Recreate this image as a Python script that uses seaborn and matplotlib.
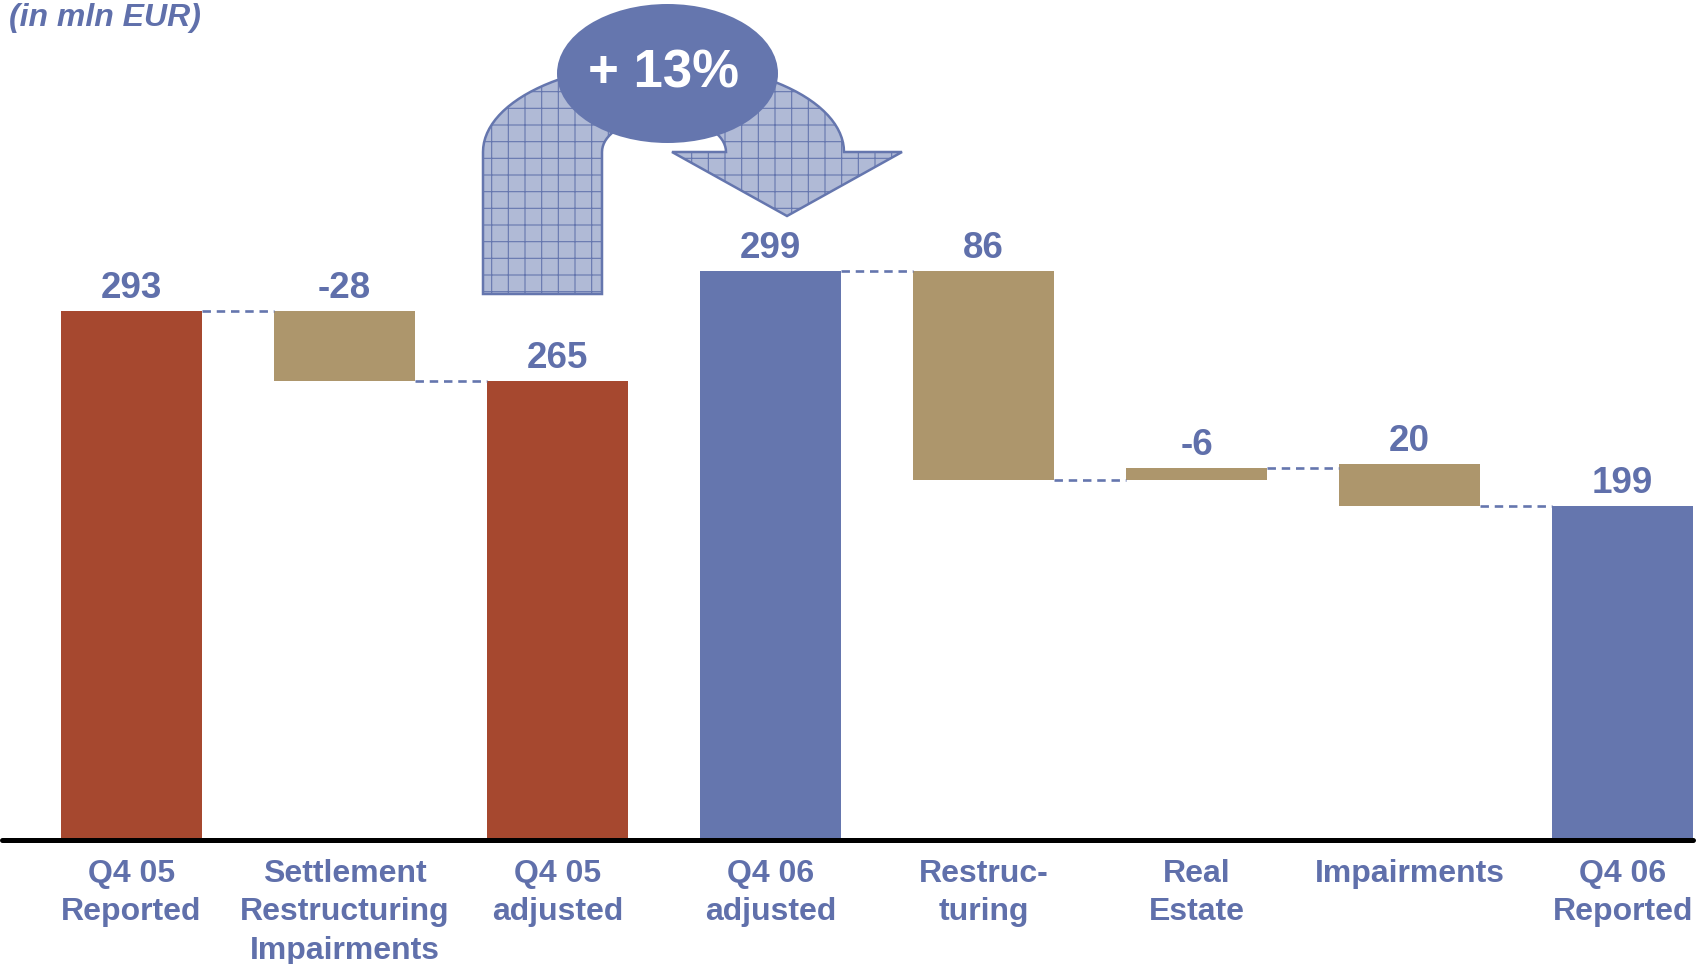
import numpy as np
import pandas as pd
import matplotlib
matplotlib.use("Agg")
import matplotlib.pyplot as plt
import seaborn as sns
from matplotlib.path import Path
from matplotlib.patches import PathPatch, Ellipse

# ---------------- data ----------------
categories = ["Q4 05\nReported", "Settlement\nRestructuring\nImpairments", "Q4 05\nadjusted",
              "Q4 06\nadjusted", "Restruc-\nturing", "Real\nEstate", "Impairments", "Q4 06\nReported"]
values = [293, -28, 265, 299, 86, -6, 20, 199]
# bar extents as drawn in the picture (chart units)
bar_high = [278, 278, 241, 299, 299, 195.5, 197.5, 175.5]
bar_low = [0, 241, 0, 0, 189, 189, 175.5, 0]
# dashed connector level between bar i and bar i+1 (None = no connector)
connector_levels = [278, 241, None, 299, 189, 195.5, 175.5]
bar_kind = ["q405", "adj", "q405", "q406", "adj", "adj", "adj", "q406"]
title = "(in mln EUR)"
growth_label = "+ 13%"

# ---------------- style ----------------
RED = "#A6482F"
TAN = "#AD966C"
BLUE = "#6576AE"
TXT = "#6070AB"
HATCH_FILL = "#B0BAD6"
kind_colors = {"q405": RED, "adj": TAN, "q406": BLUE}

sns.set_theme(style="white")
plt.rcParams["font.family"] = ["Liberation Sans", "DejaVu Sans"]
plt.rcParams["hatch.linewidth"] = 0.8

W, H = 1705, 964
fig = plt.figure(figsize=(W / 100, H / 100), dpi=100)
fig.patch.set_facecolor("white")

base_px = 839.5
ax = fig.add_axes([2 / W, (H - base_px) / H, 1691 / W, base_px / H])
ax.set_facecolor("none")

df = pd.DataFrame({
    "category": categories,
    "height": np.array(bar_high) - np.array(bar_low),
    "low": bar_low,
})
sns.barplot(data=df, x="category", y="height", bottom=df["low"].values, ax=ax,
            width=0.66, color=BLUE, saturation=1, linewidth=0, edgecolor="none",
            order=categories)
for patch, kind in zip(ax.patches, bar_kind):
    patch.set_facecolor(kind_colors[kind])
    patch.set_edgecolor("none")

ax.set_xlim(-0.608, 7.33)
ax.set_ylim(0, base_px / 1.902)

# connectors
half = 0.66 / 2
for i, lvl in enumerate(connector_levels):
    if lvl is None:
        continue
    ax.plot([i + half, i + 1 - half], [lvl, lvl], color=BLUE, lw=1.9,
            linestyle=(0, (3.2, 2.2)), zorder=1)

# value labels
for i, v in enumerate(values):
    ax.annotate(f"{v}", xy=(i, bar_high[i]), xytext=(0, 13), textcoords="offset pixels",
                ha="center", va="baseline", fontsize=26.5, fontweight="bold", color=TXT)

# axes styling
for s in ["top", "right", "left", "bottom"]:
    ax.spines[s].set_visible(False)
ax.axhline(0, color="black", lw=3.6, zorder=5, clip_on=False)
ax.set_yticks([])
ax.set_xlabel("")
ax.set_ylabel("")
ax.tick_params(axis="x", length=0, pad=14)
ax.set_xticks(range(len(categories)))
ax.set_xticklabels(categories, fontsize=23, fontweight="bold", color=TXT, linespacing=1.36)
ax.grid(False)

# ---------------- overlay (pixel coordinates) ----------------
ov = fig.add_axes([0, 0, 1, 1])
ov.set_xlim(0, W)
ov.set_ylim(H, 0)
ov.axis("off")
ov.set_facecolor("none")

# U-turn arrow
cx_o, cy_o, rx_o, ry_o = 663.5, 152, 180.5, 89
cx_i, cy_i, rx_i, ry_i = 664, 152, 62, 35
t_out = np.linspace(np.pi, 0, 60)
t_in = np.linspace(0, np.pi, 40)
pts = [(483, 294), (483, 152)]
pts += list(zip(cx_o + rx_o * np.cos(t_out), cy_o - ry_o * np.sin(t_out)))
pts += [(902, 152), (787, 216), (672, 152), (726, 152)]
pts += list(zip(cx_i + rx_i * np.cos(t_in), cy_i - ry_i * np.sin(t_in)))
pts += [(602, 294), (483, 294)]
codes = [Path.MOVETO] + [Path.LINETO] * (len(pts) - 2) + [Path.CLOSEPOLY]
arrow = PathPatch(Path(pts, codes), facecolor=HATCH_FILL, edgecolor=BLUE, lw=1.8,
                  hatch="+", zorder=2)
ov.add_patch(arrow)

ell = Ellipse((667.5, 73.5), 221, 139, facecolor=BLUE, edgecolor="none", zorder=3)
ov.add_patch(ell)
ov.text(663, 74, growth_label, ha="center", va="center", fontsize=38, fontweight="bold",
        color="white", zorder=4)

ov.text(9, 18, title, ha="left", va="center", fontsize=23, fontweight="bold",
        fontstyle="italic", color=TXT)

fig.savefig("out.png", dpi=100, facecolor="white")
